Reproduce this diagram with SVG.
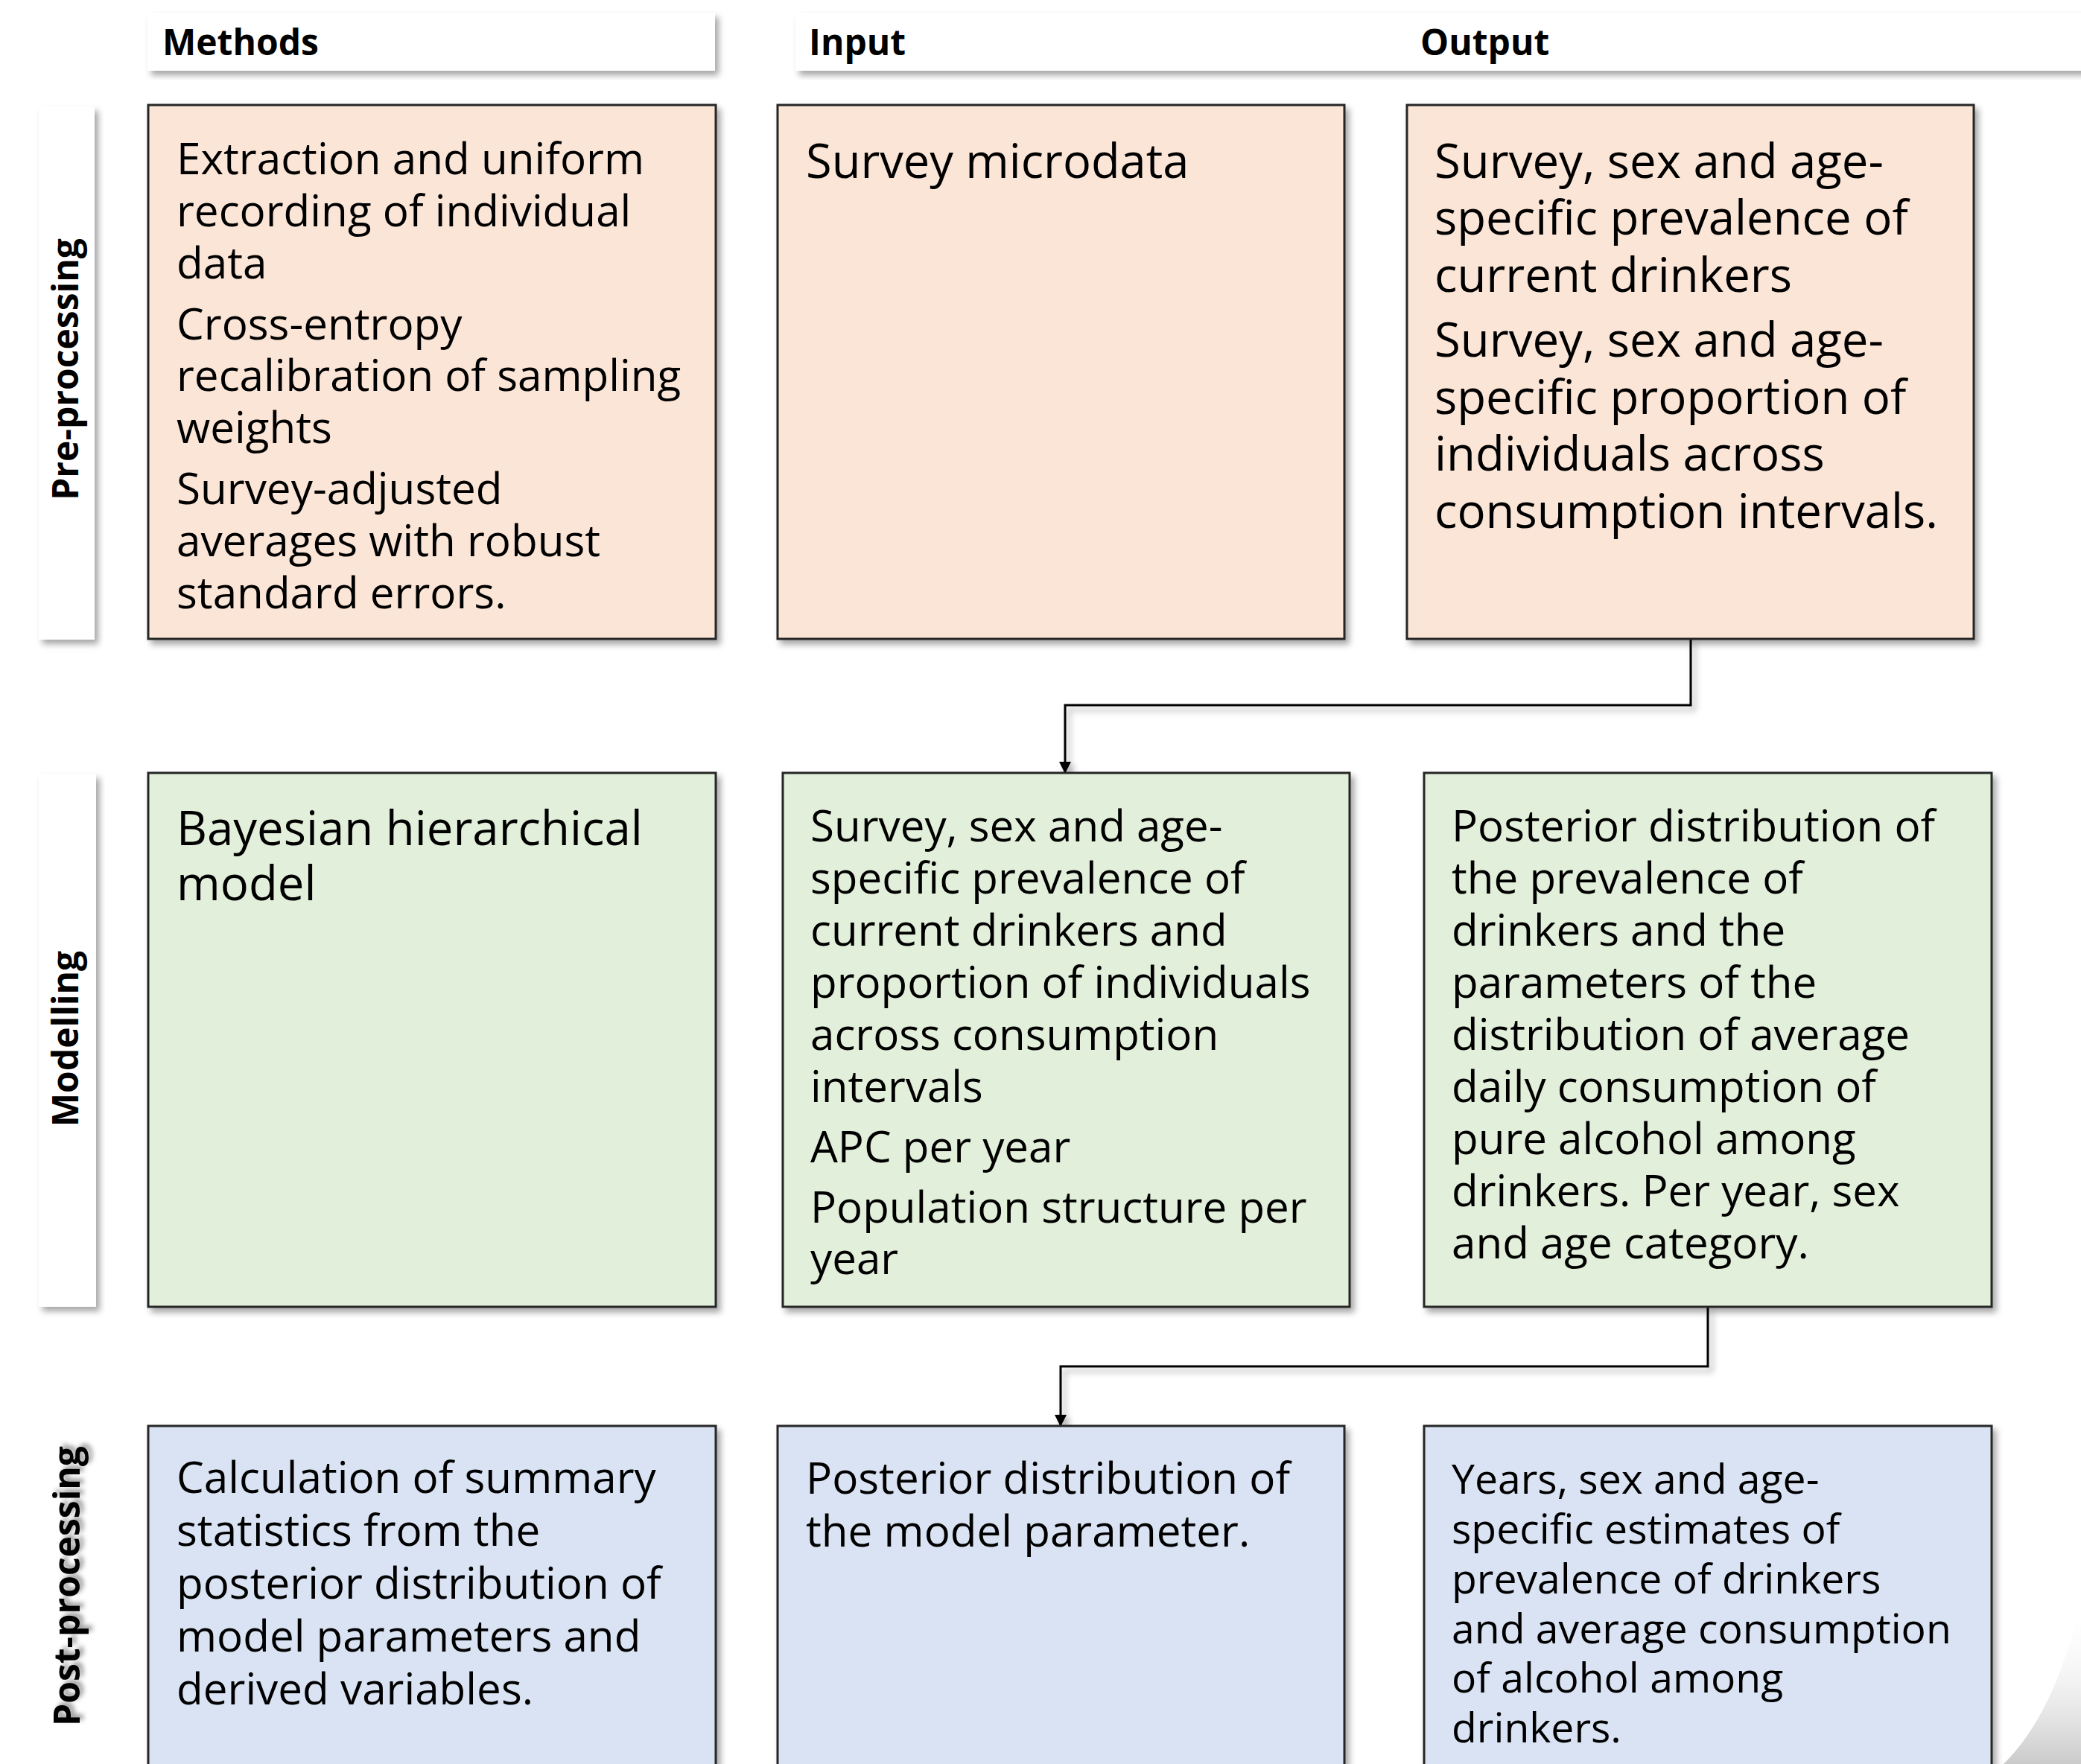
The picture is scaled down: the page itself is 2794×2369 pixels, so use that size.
<svg xmlns="http://www.w3.org/2000/svg" width="2794" height="2369" viewBox="0 0 2794 2369">
<defs>
<style>
.box{stroke:#262626;stroke-width:3}
.pink{fill:#FBE5D6}
.green{fill:#E2EFDA}
.blue{fill:#DAE3F3}
.bar{fill:#ffffff}
.t{font-family:"Open Sans","Noto Sans","DejaVu Sans",sans-serif;fill:#000}
.hd{font-family:"Open Sans","Noto Sans","DejaVu Sans",sans-serif;font-weight:bold;font-size:48px;fill:#000}
.conn{fill:none;stroke:#000;stroke-width:3}
</style>
<filter id="sh" x="-10%" y="-10%" width="125%" height="125%">
<feDropShadow dx="5" dy="6" stdDeviation="4" flood-color="#000" flood-opacity="0.35"/>
</filter>
<filter id="tsh" x="-20%" y="-10%" width="150%" height="130%">
<feDropShadow dx="4" dy="5" stdDeviation="3" flood-color="#000" flood-opacity="0.4"/>
</filter>
<marker id="arr" markerWidth="16" markerHeight="16" refX="14" refY="8" orient="auto" markerUnits="userSpaceOnUse">
<path d="M0,0 L16,8 L0,16 Z" fill="#000"/>
</marker>
<linearGradient id="curl" x1="0" y1="0" x2="0" y2="1">
<stop offset="0" stop-color="#ffffff" stop-opacity="0"/>
<stop offset="1" stop-color="#bdbdbd" stop-opacity="1"/>
</linearGradient>
</defs>
<rect width="2794" height="2369" fill="#ffffff"/>

<g id="page-curl">
<path d="M2794,2150 Q2760,2300 2690,2369 L2794,2369 Z" fill="url(#curl)" opacity="0.8"/>
</g>

<g id="header-methods">
<rect x="198" y="17" width="762" height="78" class="bar" filter="url(#sh)"/>
<text x="218" y="74" class="hd">Methods</text>
</g>
<g id="header-input-output">
<rect x="1068" y="17" width="1760" height="78" class="bar" filter="url(#sh)"/>
<text x="1086" y="74" class="hd">Input</text>
<text x="1907" y="74" class="hd">Output</text>
</g>

<g id="label-preprocessing">
<rect x="52" y="143" width="75" height="716" class="bar" filter="url(#sh)"/>
<text transform="translate(105,496) rotate(-90)" text-anchor="middle" class="hd">Pre-processing</text>
</g>
<g id="label-modelling">
<rect x="52" y="1039" width="77" height="716" class="bar" filter="url(#sh)"/>
<text transform="translate(105,1395) rotate(-90)" text-anchor="middle" class="hd">Modelling</text>
</g>
<g id="label-postprocessing">
<text transform="translate(107,2130) rotate(-90)" text-anchor="middle" class="hd" filter="url(#tsh)">Post-processing</text>
</g>

<g id="connectors" filter="url(#sh)">
<path class="conn" d="M2270,858 V947 H1430 V1037" marker-end="url(#arr)"/>
<path class="conn" d="M2293,1755 V1835 H1424 V1914" marker-end="url(#arr)"/>
</g>

<g id="pre-methods">
<rect x="199" y="141" width="762" height="717" class="box pink" filter="url(#sh)"/>
<text class="t" font-size="58.4">
<tspan x="237" y="234">Extraction and uniform</tspan>
<tspan x="237" y="304">recording of individual</tspan>
<tspan x="237" y="374">data</tspan>
<tspan x="237" y="456">Cross-entropy</tspan>
<tspan x="237" y="525">recalibration of sampling</tspan>
<tspan x="237" y="595">weights</tspan>
<tspan x="237" y="677">Survey-adjusted</tspan>
<tspan x="237" y="747">averages with robust</tspan>
<tspan x="237" y="817">standard errors.</tspan>
</text>
</g>
<g id="pre-input">
<rect x="1044" y="141" width="761" height="717" class="box pink" filter="url(#sh)"/>
<text class="t" font-size="63.2"><tspan x="1082" y="239">Survey microdata</tspan></text>
</g>
<g id="pre-output">
<rect x="1889" y="141" width="761" height="717" class="box pink" filter="url(#sh)"/>
<text class="t" font-size="63.5">
<tspan x="1926" y="239">Survey, sex and age-</tspan>
<tspan x="1926" y="315">specific prevalence of</tspan>
<tspan x="1926" y="392">current drinkers</tspan>
<tspan x="1926" y="479">Survey, sex and age-</tspan>
<tspan x="1926" y="556">specific proportion of</tspan>
<tspan x="1926" y="632">individuals across</tspan>
<tspan x="1926" y="709">consumption intervals.</tspan>
</text>
</g>

<g id="mod-methods">
<rect x="199" y="1038" width="762" height="717" class="box green" filter="url(#sh)"/>
<text class="t" font-size="63.5">
<tspan x="237" y="1135">Bayesian hierarchical</tspan>
<tspan x="237" y="1209">model</tspan>
</text>
</g>
<g id="mod-input">
<rect x="1051" y="1038" width="761" height="717" class="box green" filter="url(#sh)"/>
<text class="t" font-size="58.3">
<tspan x="1088" y="1130">Survey, sex and age-</tspan>
<tspan x="1088" y="1200">specific prevalence of</tspan>
<tspan x="1088" y="1270">current drinkers and</tspan>
<tspan x="1088" y="1340">proportion of individuals</tspan>
<tspan x="1088" y="1410">across consumption</tspan>
<tspan x="1088" y="1480">intervals</tspan>
<tspan x="1088" y="1561">APC per year</tspan>
<tspan x="1088" y="1642">Population structure per</tspan>
<tspan x="1088" y="1711">year</tspan>
</text>
</g>
<g id="mod-output">
<rect x="1912" y="1038" width="762" height="717" class="box green" filter="url(#sh)"/>
<text class="t" font-size="58.3">
<tspan x="1949" y="1130">Posterior distribution of</tspan>
<tspan x="1949" y="1200">the prevalence of</tspan>
<tspan x="1949" y="1270">drinkers and the</tspan>
<tspan x="1949" y="1340">parameters of the</tspan>
<tspan x="1949" y="1410">distribution of average</tspan>
<tspan x="1949" y="1480">daily consumption of</tspan>
<tspan x="1949" y="1550">pure alcohol among</tspan>
<tspan x="1949" y="1620">drinkers. Per year, sex</tspan>
<tspan x="1949" y="1690">and age category.</tspan>
</text>
</g>

<g id="post-methods">
<rect x="199" y="1915" width="762" height="500" class="box blue" filter="url(#sh)"/>
<text class="t" font-size="58.4">
<tspan x="237" y="2005">Calculation of summary</tspan>
<tspan x="237" y="2076">statistics from the</tspan>
<tspan x="237" y="2147">posterior distribution of</tspan>
<tspan x="237" y="2218">model parameters and</tspan>
<tspan x="237" y="2289">derived variables.</tspan>
</text>
</g>
<g id="post-input">
<rect x="1044" y="1915" width="761" height="500" class="box blue" filter="url(#sh)"/>
<text class="t" font-size="58.4">
<tspan x="1082" y="2006">Posterior distribution of</tspan>
<tspan x="1082" y="2077">the model parameter.</tspan>
</text>
</g>
<g id="post-output">
<rect x="1912" y="1915" width="762" height="500" class="box blue" filter="url(#sh)"/>
<text class="t" font-size="55.3">
<tspan x="1949" y="2006">Years, sex and age-</tspan>
<tspan x="1949" y="2073">specific estimates of</tspan>
<tspan x="1949" y="2140">prevalence of drinkers</tspan>
<tspan x="1949" y="2207">and average consumption</tspan>
<tspan x="1949" y="2273">of alcohol among</tspan>
<tspan x="1949" y="2340">drinkers.</tspan>
</text>
</g>
</svg>
